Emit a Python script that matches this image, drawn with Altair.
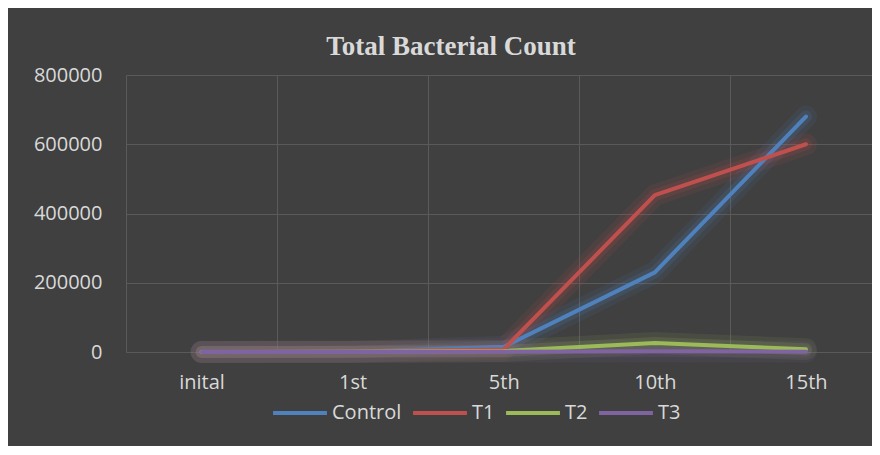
import altair as alt
import pandas as pd

categories = ["inital", "1st", "5th", "10th", "15th"]
series_names = ["Control", "T1", "T2", "T3"]
control = [500, 1000, 15000, 230000, 680000]
t1 = [300, 800, 8000, 453000, 600000]
t2 = [200, 500, 3000, 26000, 8000]
t3 = [100, 200, 1000, 2000, 1000]
y_ticks = [0, 200000, 400000, 600000, 800000]
colors = ["#4F81BD", "#C0504D", "#9BBB59", "#8064A2"]

rows = []
for name, vals in zip(series_names, [control, t1, t2, t3]):
    for c, v in zip(categories, vals):
        rows.append({"day": c, "series": name, "count": v})
df = pd.DataFrame(rows)

FONT = "Open Sans"
LABEL = "#d9d9d9"
GRID = "#5a5a5a"

x_enc = alt.X(
    "day:N",
    sort=categories,
    bandPosition=0.5,
    scale=alt.Scale(type="band", paddingInner=0, paddingOuter=0, range=[0, 755.5]),
    axis=alt.Axis(
        title=None, tickBand="extent", grid=True, gridColor=GRID, ticks=False,
        domain=False, labelAngle=0, labelFont=FONT, labelFontSize=20,
        labelColor=LABEL, labelPadding=20,
    ),
)
y_enc = alt.Y(
    "count:Q",
    scale=alt.Scale(domain=[0, 800000], nice=False),
    axis=alt.Axis(
        title=None, values=y_ticks, format="d", grid=True, gridColor=GRID,
        ticks=False, domain=False, labelFont=FONT, labelFontSize=20,
        labelColor=LABEL, labelPadding=24,
    ),
)
color_scale = alt.Scale(domain=series_names, range=colors)

base = alt.Chart(df)

glow1 = base.mark_line(strokeWidth=22, opacity=0.1, strokeCap="round", strokeJoin="round").encode(
    x=x_enc, y=y_enc, color=alt.Color("series:N", scale=color_scale, legend=None)
)
glow2 = base.mark_line(strokeWidth=12, opacity=0.16, strokeCap="round", strokeJoin="round").encode(
    x=x_enc, y=y_enc, color=alt.Color("series:N", scale=color_scale, legend=None)
)
main = base.mark_line(strokeWidth=4, strokeCap="round", strokeJoin="round").encode(
    x=x_enc, y=y_enc,
    color=alt.Color(
        "series:N", scale=color_scale,
        legend=alt.Legend(
            title=None, orient="none", direction="horizontal",
            legendX=145, legendY=309, symbolType="stroke", symbolSize=2900,
            symbolStrokeWidth=4, labelFont=FONT, labelFontSize=20,
            labelColor=LABEL, columnPadding=3, labelOffset=3,
        ),
    ),
)

chart = (
    alt.layer(glow1, glow2, main)
    .resolve_legend(color="independent")
    .properties(
        width=746,
        height=277,
        autosize=alt.AutoSizeParams(type="none"),
        padding={"left": 118, "top": 67, "right": 0, "bottom": 94},
        background="#404040",
        title=alt.TitleParams(
            "Total Bacterial Count", font="Liberation Serif", fontSize=27,
            fontWeight="bold", color=LABEL, anchor="middle", dx=-48,
            offset=18, dy=35, baseline="alphabetic",
        ),
    )
    .configure_view(stroke=None)
)

chart.save("out.html", embed_options={"renderer": "svg", "actions": False})
